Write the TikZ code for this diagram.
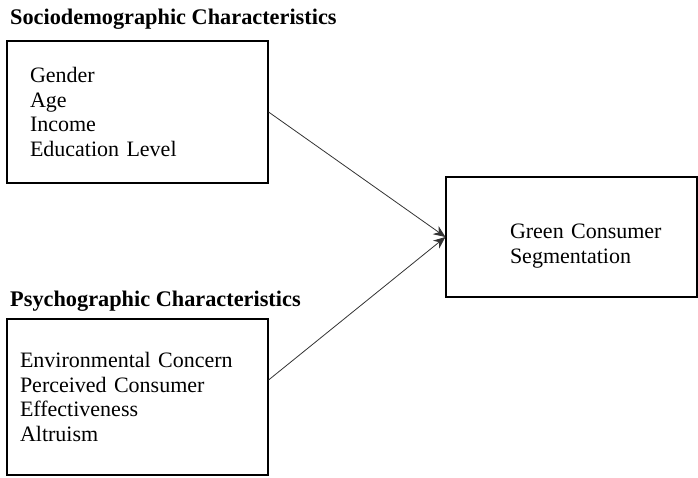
\documentclass[tikz,border=0pt]{standalone}
\usepackage{fontspec}
\setmainfont{Liberation Serif}
\usetikzlibrary{arrows.meta}

\tikzset{
  box/.style={draw,line width=1.1pt,rectangle,align=left,inner ysep=0pt,
    font=\fontsize{22}{24.5}\selectfont},
  heading/.style={anchor=base west,inner sep=0pt,font=\fontsize{22.3}{24.5}\selectfont\bfseries},
  link/.style={draw=black!80,line width=0.8pt,-{Stealth[length=12pt,width=10pt]}}
}

\begin{document}
\begin{tikzpicture}[x=1pt,y=-1pt]
  \useasboundingbox (0,0) rectangle (698,478);
  \node[heading] (socio) at (10,25) {Sociodemographic Characteristics};
  \node[box,minimum width=261pt,minimum height=142pt,inner xsep=23pt,text width=215pt]
    (demo) at (137.5,112) {Gender\\Age\\Income\\Education Level};
  \node[heading] (psycho) at (10,306) {Psychographic Characteristics};
  \node[box,minimum width=261pt,minimum height=156pt,inner xsep=13pt,text width=235pt]
    (psych) at (137.5,397) {Environmental Concern\\Perceived Consumer\\Effectiveness\\Altruism};
  \node[box,minimum width=251pt,minimum height=120pt,inner xsep=64pt,text width=123pt]
    (green) at (571.5,237) {\rule{0pt}{33pt}\mbox{Green Consumer}\\Segmentation};
  \draw[link] (demo.east) -- (green.west);
  \draw[link] ([yshift=17pt]psych.east) -- (green.west);
\end{tikzpicture}
\end{document}
